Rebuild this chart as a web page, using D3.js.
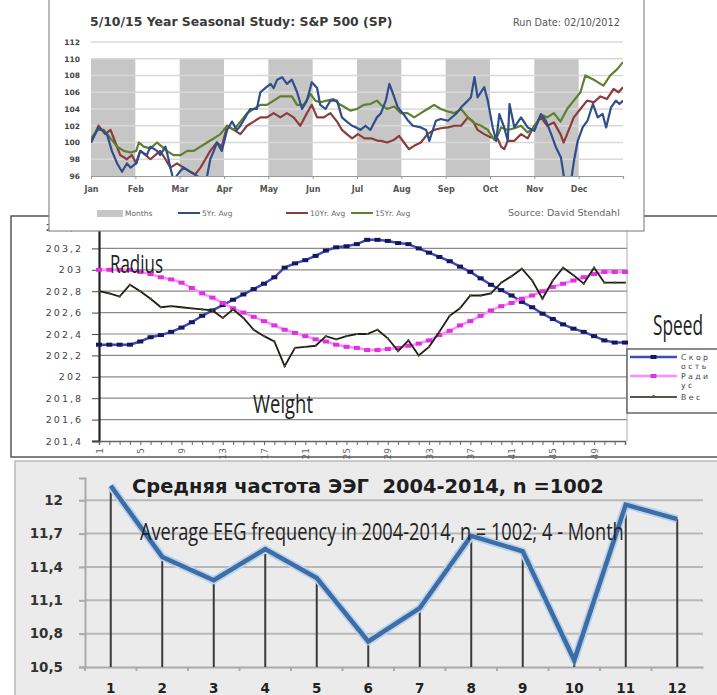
<!DOCTYPE html>
<html>
<head>
<meta charset="utf-8">
<script src="https://cdn.jsdelivr.net/npm/d3@7"></script>
<style>
body { margin: 0; background: #fff; }
svg { display: block; }
</style>
</head>
<body>
<div id="chart"></div>
<script>
// ---- top chart: seasonal study ----
const months = ['Jan', 'Feb', 'Mar', 'Apr', 'May', 'Jun', 'Jul', 'Aug', 'Sep', 'Oct', 'Nov', 'Dec'];
const shadedMonths = [0, 2, 4, 6, 8, 10];
const topTicks = [96, 98, 100, 102, 104, 106, 108, 110, 112];
// [month position, value]
const avg5 = [[0,100],[0.17,101.8],[0.36,101],[0.47,99],[0.59,97.5],[0.7,96.5],[0.81,97.5],[0.89,97],[1.02,97.5],[1.11,99],[1.26,98.5],[1.34,99.5],[1.49,99],[1.56,98.5],[1.68,99.5],[1.75,98],[1.79,97],[1.86,95.5],[2,96.5],[2.09,97],[2.24,96.5],[2.39,96],[2.54,95.5],[2.62,96],[2.69,98],[2.77,99],[2.84,100],[2.95,99],[3.07,101.5],[3.18,102.5],[3.29,101.5],[3.37,102],[3.48,103],[3.59,104],[3.74,104],[3.82,106],[3.93,106.5],[4.05,107],[4.12,106.5],[4.2,107.5],[4.31,107.8],[4.42,107],[4.53,107.5],[4.65,106],[4.76,104],[4.87,105],[4.98,107.2],[5.1,106.5],[5.17,104.5],[5.29,104],[5.4,105],[5.55,105],[5.66,103],[5.77,102.5],[5.89,102],[5.98,101.8],[6.08,101.5],[6.19,102],[6.3,101.5],[6.45,103],[6.54,103.5],[6.65,105],[6.73,107],[6.8,106],[6.92,104.2],[7.03,103.5],[7.14,102.7],[7.26,102],[7.44,101.8],[7.56,101.5],[7.63,100.2],[7.78,102.6],[7.89,102.8],[8.05,102.6],[8.23,103.4],[8.35,104.2],[8.5,105],[8.57,105.4],[8.65,107.8],[8.72,105.4],[8.87,106.6],[8.95,105],[9.06,101.8],[9.14,100.2],[9.21,103.4],[9.32,101.8],[9.4,100.2],[9.44,104.6],[9.55,101.8],[9.7,103],[9.85,101.8],[10,101.4],[10.15,103.4],[10.26,102.6],[10.38,101],[10.49,99.4],[10.6,98.2],[10.68,95.5],[10.83,95.5],[10.9,98],[10.98,100.2],[11.09,101.8],[11.2,102.6],[11.32,104.6],[11.43,103],[11.54,103.4],[11.62,101.8],[11.73,104.2],[11.84,105],[11.92,104.6],[12,105]];
const avg10 = [[0,100],[0.17,102],[0.32,101],[0.44,101.5],[0.55,100],[0.66,98.5],[0.81,98],[0.92,98.5],[1.02,97.5],[1.11,99],[1.23,98.5],[1.34,98],[1.45,98.5],[1.56,99],[1.68,98],[1.79,97],[1.94,97.5],[2.09,97],[2.24,96.5],[2.35,96.2],[2.47,97],[2.58,98],[2.69,99],[2.84,100],[2.95,99.5],[3.07,102],[3.22,101.5],[3.37,101],[3.52,102],[3.67,102.5],[3.82,103],[3.97,103],[4.12,103.5],[4.27,103],[4.42,103.5],[4.57,103],[4.72,102],[4.87,103.5],[4.98,104.5],[5.1,103],[5.25,103],[5.4,103.5],[5.55,102.5],[5.66,101.5],[5.77,101],[5.89,100.5],[6.02,101],[6.17,100.5],[6.32,100.5],[6.47,100.2],[6.54,100.2],[6.68,100],[6.83,100.3],[6.95,100.8],[7.06,100],[7.17,99.2],[7.29,99.6],[7.44,100],[7.59,101],[7.74,101.5],[7.89,101.7],[8.05,101.8],[8.2,102],[8.35,102],[8.5,103],[8.62,102.5],[8.72,101.5],[8.87,101],[9.02,100.6],[9.17,100.5],[9.25,99.5],[9.32,99.2],[9.4,100.2],[9.55,100.2],[9.7,101],[9.85,100.5],[10,102],[10.15,103],[10.29,102],[10.44,102.4],[10.59,101],[10.66,100],[10.74,101],[10.89,103],[11.04,104],[11.19,105],[11.34,104.8],[11.49,105.5],[11.64,105.2],[11.79,106.4],[11.9,106],[12,106.6]];
const avg15 = [[0,100.5],[0.14,101.5],[0.29,101.5],[0.44,100.5],[0.59,99.5],[0.74,99],[0.89,98.8],[1.02,99],[1.08,100],[1.19,99.5],[1.34,99.3],[1.49,100],[1.6,99.5],[1.71,99],[1.86,98.5],[2.02,98.5],[2.17,99],[2.32,99],[2.47,99.5],[2.62,100],[2.77,100.5],[2.92,101],[3.07,102],[3.22,101.5],[3.37,102.5],[3.52,103.5],[3.67,104],[3.82,104.5],[3.97,104.5],[4.12,105],[4.27,105.5],[4.42,105.5],[4.53,105.5],[4.65,104.5],[4.8,104.5],[4.95,105.8],[5.06,105],[5.17,104.8],[5.32,105],[5.47,105.2],[5.59,104.6],[5.7,104.3],[5.85,103.8],[6,104],[6.15,104.5],[6.3,104.6],[6.45,105],[6.54,104.5],[6.68,104],[6.84,104.3],[6.99,103.5],[7.14,103.5],[7.29,103],[7.44,103.5],[7.59,104],[7.74,104.5],[7.89,104],[8.05,103.7],[8.2,103.5],[8.35,104],[8.5,103],[8.65,102.3],[8.8,102],[8.95,101.5],[9.1,100.3],[9.17,100.8],[9.25,101.8],[9.4,101.5],[9.55,101.7],[9.7,102],[9.85,101.2],[10,101.8],[10.15,103.3],[10.29,103],[10.44,103.5],[10.59,102.5],[10.74,104],[10.89,105],[11.04,106],[11.15,108],[11.34,107.5],[11.49,107],[11.56,106.8],[11.71,108],[11.86,108.7],[12,109.6]];

// ---- middle chart: speed / radius / weight ----
const weeks = d3.range(1, 53);
const midTicks = [201.4, 201.6, 201.8, 202, 202.2, 202.4, 202.6, 202.8, 203, 203.2, 203.4];
const speed = [202.30,202.30,202.30,202.30,202.33,202.37,202.39,202.42,202.46,202.51,202.57,202.62,202.67,202.72,202.77,202.82,202.87,202.93,203.02,203.06,203.09,203.13,203.18,203.21,203.22,203.24,203.28,203.28,203.27,203.25,203.24,203.20,203.16,203.12,203.08,203.03,202.98,202.92,202.86,202.81,202.76,202.70,202.65,202.59,202.54,202.49,202.45,202.42,202.38,202.34,202.32,202.32];
const radius = [203.00,203.00,203.00,203.00,202.98,202.96,202.93,202.91,202.88,202.83,202.78,202.74,202.69,202.64,202.60,202.56,202.52,202.48,202.44,202.41,202.38,202.35,202.33,202.30,202.28,202.27,202.25,202.25,202.26,202.27,202.29,202.31,202.34,202.39,202.43,202.48,202.52,202.57,202.62,202.66,202.69,202.73,202.76,202.80,202.84,202.87,202.90,202.93,202.96,202.98,202.98,202.98];
const weight = [202.80,202.78,202.75,202.86,202.80,202.73,202.65,202.66,202.65,202.64,202.63,202.62,202.55,202.63,202.55,202.44,202.38,202.33,202.10,202.27,202.28,202.29,202.38,202.35,202.38,202.40,202.40,202.44,202.36,202.24,202.34,202.20,202.28,202.42,202.57,202.64,202.76,202.76,202.78,202.88,202.94,203.01,202.90,202.73,202.90,203.02,202.95,202.87,203.02,202.88,202.88,202.88];

// ---- bottom chart: EEG frequency ----
const eegMonths = [1, 2, 3, 4, 5, 6, 7, 8, 9, 10, 11, 12];
const eegFreq = [12.13, 11.49, 11.28, 11.56, 11.30, 10.73, 11.03, 11.68, 11.54, 10.56, 11.96, 11.83];
const eegTicks = [10.5, 10.8, 11.1, 11.4, 11.7, 12];

const width = 717, height = 695;
const comma = d => String(d).replace('.', ',');

const svg = d3.select('#chart').append('svg')
    .attr('width', width)
    .attr('height', height);

// scale font so a text fills a given width
function fit(t, w) {
    const fs = parseFloat(t.style('font-size'));
    const len = t.node().getComputedTextLength();
    t.style('font-size', (fs * w / len) + 'px');
}

// tall condensed note text: keep font size, squeeze horizontally to width w
const noteFont = "'Open Sans', sans-serif";
function note(g, x, y, str, size, w) {
    const t = g.append('text')
        .attr('transform', `translate(${x},${y})`)
        .style('font-family', noteFont).style('font-size', size + 'px')
        .attr('fill', '#222')
        .text(str);
    const len = t.node().getComputedTextLength();
    t.attr('transform', `translate(${x},${y}) scale(${w / len},1)`);
    return t;
}

// ================= middle chart =================
const midG = svg.append('g');
midG.append('rect')
    .attr('x', 11).attr('y', 216).attr('width', 740).attr('height', 241)
    .attr('fill', '#fff').attr('stroke', '#555').attr('stroke-width', 1.5);

const xMid = d3.scalePoint().domain(weeks).range([99, 625]);
const yMid = d3.scaleLinear().domain([201.4, 203.4]).range([441, 227]);

midG.append('g')
    .selectAll('line')
    .data(midTicks.slice(1))
    .join('line')
    .attr('x1', 99).attr('x2', 627)
    .attr('y1', d => yMid(d)).attr('y2', d => yMid(d))
    .attr('stroke', '#8a8a8a').attr('stroke-width', 1.2);

midG.append('line')
    .attr('x1', 627).attr('x2', 627).attr('y1', yMid(203.4)).attr('y2', yMid(201.4))
    .attr('stroke', '#aaa');

const yAxisMid = midG.append('g')
    .attr('transform', 'translate(99,0)')
    .call(d3.axisLeft(yMid).tickValues(midTicks).tickSize(7).tickPadding(9).tickFormat(comma));
yAxisMid.select('.domain').attr('stroke', '#222').attr('stroke-width', 2.2);
yAxisMid.selectAll('line').attr('stroke', '#444');
yAxisMid.selectAll('text')
    .style('font-family', 'DejaVu Sans').style('font-size', '9.5px')
    .style('letter-spacing', '2px').attr('fill', '#444');

const xAxisMid = midG.append('g')
    .attr('transform', 'translate(0,441)')
    .call(d3.axisBottom(xMid).tickSize(4).tickFormat(d => (d - 1) % 4 === 0 ? d : ''));
xAxisMid.select('.domain').attr('stroke', '#666').attr('stroke-width', 1.5);
xAxisMid.selectAll('line').attr('stroke', '#666');
xAxisMid.selectAll('text')
    .attr('transform', 'rotate(-90)')
    .attr('x', -7).attr('y', 0).attr('dy', '0.35em')
    .style('text-anchor', 'end')
    .style('font-family', 'DejaVu Sans').style('font-size', '9px')
    .attr('fill', '#666');

const lineMid = d3.line().x((d, i) => xMid(weeks[i])).y(d => yMid(d));

midG.append('path').datum(speed).attr('d', lineMid)
    .attr('fill', 'none').attr('stroke', '#3c4cb8').attr('stroke-width', 2.5);
midG.append('g').selectAll('rect').data(speed).join('rect')
    .attr('x', (d, i) => xMid(weeks[i]) - 3).attr('y', d => yMid(d) - 2)
    .attr('width', 6).attr('height', 4).attr('fill', '#17175a');

midG.append('path').datum(radius).attr('d', lineMid)
    .attr('fill', 'none').attr('stroke', '#ff8cff').attr('stroke-width', 2.5);
midG.append('g').selectAll('rect').data(radius).join('rect')
    .attr('x', (d, i) => xMid(weeks[i]) - 3).attr('y', d => yMid(d) - 2)
    .attr('width', 6).attr('height', 4).attr('fill', '#e030e0');

midG.append('path').datum(weight).attr('d', lineMid)
    .attr('fill', 'none').attr('stroke', '#1e1e14').attr('stroke-width', 1.8);
midG.append('g').selectAll('rect').data(weight).join('rect')
    .attr('x', (d, i) => xMid(weeks[i]) - 1).attr('y', d => yMid(d) - 1)
    .attr('width', 2).attr('height', 2).attr('fill', '#55553a');

// big annotations
note(midG, 110, 273, 'Radius', 25, 53);
note(midG, 253, 413, 'Weight', 25, 60);
note(midG, 653, 335, 'Speed', 27, 50);

// legend
const legMid = midG.append('g');
legMid.append('rect')
    .attr('x', 627).attr('y', 349).attr('width', 100).attr('height', 64)
    .attr('fill', '#fff').attr('stroke', '#666').attr('stroke-width', 1.5);
const midSeries = [
    { lines: ['Скор', 'ость'], color: '#3c4cb8', mark: '#17175a', y: 357, w: 2.5, mw: 6 },
    { lines: ['Ради', 'ус'], color: '#ff8cff', mark: '#e030e0', y: 376, w: 2.5, mw: 6 },
    { lines: ['Вес'], color: '#1e1e14', mark: '#55553a', y: 397, w: 1.5, mw: 2 }
];
midSeries.forEach(s => {
    legMid.append('line').attr('x1', 630).attr('x2', 677).attr('y1', s.y).attr('y2', s.y)
        .attr('stroke', s.color).attr('stroke-width', s.w);
    legMid.append('rect').attr('x', 653.5 - s.mw / 2).attr('y', s.y - 2)
        .attr('width', s.mw).attr('height', s.mw === 2 ? 2 : 4).attr('fill', s.mark);
    s.lines.forEach((l, i) => {
        legMid.append('text').attr('x', 681).attr('y', s.y + 3 + i * 8.5).text(l);
    });
});
legMid.selectAll('text')
    .style('font-family', 'DejaVu Sans').style('font-size', '7.8px')
    .style('letter-spacing', '2.4px').attr('fill', '#444');

// ================= top chart =================
const topG = svg.append('g');
topG.append('rect')
    .attr('x', 49).attr('y', -2).attr('width', 595).attr('height', 233)
    .attr('fill', '#fff').attr('stroke', '#8a8a8a').attr('stroke-width', 1.2);

const xTop = d3.scaleLinear().domain([0, 12]).range([91, 623]);
const yTop = d3.scaleLinear().domain([96, 112]).range([176, 42]);

topG.append('g').selectAll('rect').data(shadedMonths).join('rect')
    .attr('x', d => xTop(d)).attr('width', d => xTop(d + 1) - xTop(d))
    .attr('y', yTop(110)).attr('height', yTop(96) - yTop(110))
    .attr('fill', '#c6c6c6');

topG.append('g').selectAll('line').data(topTicks.slice(1)).join('line')
    .attr('x1', xTop(0)).attr('x2', xTop(12))
    .attr('y1', d => yTop(d)).attr('y2', d => yTop(d))
    .attr('stroke', '#d8d8d8').attr('stroke-width', 1.4);

const xAxisTop = topG.append('g')
    .attr('transform', `translate(0,${yTop(96)})`)
    .call(d3.axisBottom(xTop).tickValues(d3.range(0, 13)).tickSize(3).tickPadding(7)
        .tickFormat(d => months[d] || ''));
xAxisTop.select('.domain').attr('stroke', '#999').attr('stroke-width', 1.2);
xAxisTop.selectAll('line').attr('stroke', '#999');
xAxisTop.selectAll('text')
    .style('font-family', 'DejaVu Sans').style('font-weight', 'bold').style('font-size', '8px')
    .attr('fill', '#555');

const yAxisTop = topG.append('g')
    .attr('transform', `translate(${xTop(0)},0)`)
    .call(d3.axisLeft(yTop).tickValues(topTicks).tickSize(0).tickPadding(11));
yAxisTop.select('.domain').remove();
yAxisTop.selectAll('text')
    .style('font-family', 'DejaVu Sans').style('font-weight', 'bold').style('font-size', '7.5px')
    .attr('fill', '#444');

topG.append('clipPath').attr('id', 'topclip')
    .append('rect')
    .attr('x', xTop(0)).attr('y', yTop(112))
    .attr('width', xTop(12) - xTop(0)).attr('height', yTop(96) - yTop(112));

const lineTop = d3.line().x(d => xTop(d[0])).y(d => yTop(d[1]));
const topSeries = [
    { data: avg10, color: '#8c3c3c', name: '10Yr. Avg' },
    { data: avg15, color: '#5e7f2c', name: '15Yr. Avg' },
    { data: avg5, color: '#2f4e8c', name: '5Yr. Avg' }
];
topG.append('g').attr('clip-path', 'url(#topclip)')
    .selectAll('path').data(topSeries).join('path')
    .attr('d', d => lineTop(d.data))
    .attr('fill', 'none').attr('stroke', d => d.color)
    .attr('stroke-width', 2.2).attr('stroke-linejoin', 'round');

fit(topG.append('text').attr('x', 90).attr('y', 26)
    .text('5/10/15 Year Seasonal Study: S&P 500 (SP)')
    .style('font-family', 'DejaVu Sans').style('font-weight', 'bold').style('font-size', '12px')
    .attr('fill', '#3a3a3a'), 303);
fit(topG.append('text').attr('x', 513).attr('y', 26)
    .text('Run Date: 02/10/2012')
    .style('font-family', 'DejaVu Sans').style('font-size', '8px')
    .attr('fill', '#555'), 107);

// legend
const legTop = topG.append('g').style('font-family', 'DejaVu Sans').style('font-size', '7.5px').attr('fill', '#666');
legTop.append('rect').attr('x', 97).attr('y', 210).attr('width', 26).attr('height', 7).attr('fill', '#c6c6c6');
legTop.append('text').attr('x', 125).attr('y', 216).text('Months');
[{ s: topSeries[2], x: 178 }, { s: topSeries[0], x: 286 }, { s: topSeries[1], x: 351 }].forEach(l => {
    legTop.append('line').attr('x1', l.x).attr('x2', l.x + 22).attr('y1', 213).attr('y2', 213)
        .attr('stroke', l.s.color).attr('stroke-width', 2);
    legTop.append('text').attr('x', l.x + 24).attr('y', 216).text(l.s.name);
});
fit(legTop.append('text').attr('x', 508).attr('y', 216).text('Source: David Stendahl'), 112);

// ================= bottom chart =================
const botG = svg.append('g');
botG.append('rect')
    .attr('x', 15).attr('y', 461).attr('width', 720).attr('height', 250)
    .attr('fill', '#ebebeb').attr('stroke', '#bbb').attr('stroke-width', 1.5);

const xBot = d3.scaleBand().domain(eegMonths).range([85, 703]);
const yBot = d3.scaleLinear().domain([10.5, 12.2]).range([667, 478]);
const cx = d => xBot(d) + xBot.bandwidth() / 2;

botG.append('g').selectAll('line').data(eegTicks.slice(1)).join('line')
    .attr('x1', 85).attr('x2', 703)
    .attr('y1', d => yBot(d)).attr('y2', d => yBot(d))
    .attr('stroke', '#b8b8b8').attr('stroke-width', 2);

const yAxisBot = botG.append('g')
    .attr('transform', 'translate(85,0)')
    .call(d3.axisLeft(yBot).tickValues(eegTicks).tickSize(6).tickPadding(16).tickFormat(comma));
yAxisBot.select('.domain').attr('stroke', '#aaa').attr('stroke-width', 2);
yAxisBot.selectAll('line').attr('stroke', '#aaa').attr('stroke-width', 2);
yAxisBot.selectAll('text')
    .style('font-family', 'DejaVu Sans').style('font-weight', 'bold').style('font-size', '13.5px')
    .attr('fill', '#333');

const xAxisBot = botG.append('g')
    .attr('transform', `translate(0,${yBot(10.5)})`)
    .call(d3.axisBottom(xBot).tickSize(0).tickPadding(16));
xAxisBot.select('.domain').attr('stroke', '#aaa').attr('stroke-width', 2);
xAxisBot.selectAll('text')
    .style('font-family', 'DejaVu Sans').style('font-weight', 'bold').style('font-size', '13.5px')
    .attr('fill', '#222');
botG.append('g').selectAll('line').data(eegMonths).join('line')
    .attr('x1', d => xBot(d)).attr('x2', d => xBot(d))
    .attr('y1', yBot(10.5)).attr('y2', yBot(10.5) + 4)
    .attr('stroke', '#aaa').attr('stroke-width', 2);

// drop lines
botG.append('g').selectAll('line').data(eegMonths).join('line')
    .attr('x1', d => cx(d)).attr('x2', d => cx(d))
    .attr('y1', (d, i) => yBot(eegFreq[i])).attr('y2', yBot(10.5))
    .attr('stroke', '#3a3a3a').attr('stroke-width', 2);

const lineBot = d3.line().x((d, i) => cx(eegMonths[i])).y(d => yBot(d));
botG.append('path').datum(eegFreq).attr('d', lineBot)
    .attr('fill', 'none').attr('stroke', '#b9d3ee').attr('stroke-width', 8)
    .attr('stroke-linejoin', 'round');
botG.append('path').datum(eegFreq).attr('d', lineBot)
    .attr('fill', 'none').attr('stroke', '#3e6ca4').attr('stroke-width', 4.5)
    .attr('stroke-linejoin', 'miter');

fit(botG.append('text').attr('x', 132).attr('y', 493)
    .attr('xml:space', 'preserve').style('white-space', 'pre')
    .text('Средняя частота ЭЭГ  2004-2014, n =1002')
    .style('font-family', 'DejaVu Sans').style('font-weight', 'bold').style('font-size', '18px')
    .attr('fill', '#1e1e1e'), 472);
note(botG, 140, 540, 'Average EEG frequency in 2004-2014, n = 1002; 4 - Month', 24, 484);
</script>
</body>
</html>
